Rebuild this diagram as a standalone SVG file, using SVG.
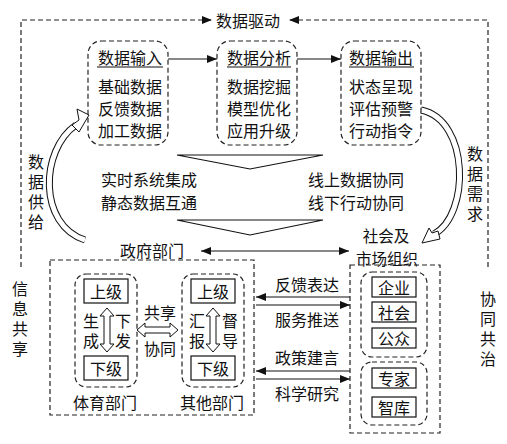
<svg xmlns="http://www.w3.org/2000/svg" width="507" height="444" viewBox="0 0 507 444">
<style>
text{font-family:"Noto Sans CJK SC","Noto Sans",sans-serif;font-size:16px;fill:#111;dominant-baseline:central;text-anchor:middle}
text.v{writing-mode:vertical-rl;text-anchor:start;letter-spacing:4px}
.d{fill:none;stroke:#222;stroke-width:1.2;stroke-dasharray:5 3}
.s{fill:none;stroke:#111;stroke-width:1.2}
.b{fill:#fff;stroke:#111;stroke-width:1.2}
.h{fill:#fff;stroke:#111;stroke-width:1}
</style>
<defs>
<marker id="a" viewBox="0 0 10 8" refX="10" refY="4" markerWidth="10" markerHeight="8" markerUnits="userSpaceOnUse" orient="auto-start-reverse"><path d="M0,0L10,4L0,8z" fill="#111"/></marker>
</defs>
<rect width="507" height="444" fill="#fff"/>
<g id="connectors">
<path class="d" d="M21,267V20H212" marker-end="url(#a)"/>
<path class="d" d="M488,267V20H289" marker-end="url(#a)"/>
<path class="s" d="M168,59H217" marker-end="url(#a)"/>
<path class="s" d="M297,59H341" marker-end="url(#a)"/>
<path class="s" d="M201,251H349" marker-start="url(#a)" marker-end="url(#a)"/>
<path class="s" d="M350,297H256" marker-end="url(#a)"/>
<path class="s" d="M256,305H350" marker-end="url(#a)"/>
<path class="s" d="M350,371H256" marker-end="url(#a)"/>
<path class="s" d="M256,379H350" marker-end="url(#a)"/>
<path class="s" d="M177,155H323L250,169Z"/>
<path class="s" d="M177,220H323L250,235Z"/>
<path d="M85,240C38,225 40,150 76,125" fill="none" stroke="#111" stroke-width="7"/>
<path d="M85,240C38,225 40,150 76,125" fill="none" stroke="#fff" stroke-width="5"/>
<path class="h" d="M89,115L77,109L79,120L72,125L79,132Z"/>
<path d="M421,110C470,120 470,215 434,234" fill="none" stroke="#111" stroke-width="7"/>
<path d="M421,110C470,120 470,215 434,234" fill="none" stroke="#fff" stroke-width="5"/>
<path class="h" d="M422,243L429,228L432,233L438,231L440,239Z"/>
<path class="h" d="M107,308L114,316L110,316L110,344L114,344L107,352L100,344L104,344L104,316L100,316Z"/>
<path class="h" d="M213,308L220,316L216,316L216,344L220,344L213,352L206,344L210,344L210,316L206,316Z"/>
<path class="h" d="M137,330L145,323L145,327L170,327L170,323L178,330L170,337L170,333L145,333L145,337Z"/>
</g>
<g id="top-label"><text x="248" y="20">数据驱动</text></g>
<g id="node-input">
<rect class="d" x="88" y="41" width="80" height="104" rx="13"/>
<text x="130" y="57">数据输入</text>
<path class="s" d="M97,67H163"/>
<text x="130" y="86">基础数据</text>
<text x="130" y="108">反馈数据</text>
<text x="130" y="130">加工数据</text>
</g>
<g id="node-analysis">
<rect class="d" x="217" y="41" width="80" height="104" rx="13"/>
<text x="259" y="57">数据分析</text>
<path class="s" d="M227,67H291"/>
<text x="259" y="86">数据挖掘</text>
<text x="259" y="108">模型优化</text>
<text x="259" y="130">应用升级</text>
</g>
<g id="node-output">
<rect class="d" x="341" y="41" width="80" height="104" rx="13"/>
<text x="381" y="57">数据输出</text>
<path class="s" d="M349,67H414"/>
<text x="381" y="86">状态呈现</text>
<text x="381" y="108">评估预警</text>
<text x="381" y="130">行动指令</text>
</g>
<g id="side-labels">
<text class="v" x="36" y="154">数据供给</text>
<text class="v" x="475" y="146">数据需求</text>
<text class="v" x="20" y="281">信息共享</text>
<text class="v" x="488" y="291">协同共治</text>
</g>
<g id="middle-labels">
<text x="149" y="179">实时系统集成</text>
<text x="149" y="202">静态数据互通</text>
<text x="356" y="179">线上数据协同</text>
<text x="356" y="202">线下行动协同</text>
</g>
<g id="node-gov">
<text x="152" y="250">政府部门</text>
<rect class="d" x="50" y="260" width="204" height="155"/>
<rect class="d" x="75" y="274" width="62" height="113" rx="11"/>
<rect class="b" x="84" y="279" width="44" height="24"/>
<text x="106" y="291">上级</text>
<rect class="b" x="84" y="356" width="44" height="24"/>
<text x="106" y="368">下级</text>
<text class="v" x="91" y="313">生成</text>
<text class="v" x="123" y="313">下发</text>
<text x="105" y="402">体育部门</text>
<rect class="d" x="182" y="274" width="62" height="113" rx="11"/>
<rect class="b" x="191" y="279" width="44" height="24"/>
<text x="213" y="291">上级</text>
<rect class="b" x="191" y="356" width="44" height="24"/>
<text x="213" y="368">下级</text>
<text class="v" x="197" y="313">汇报</text>
<text class="v" x="230" y="313">督导</text>
<text x="212" y="402">其他部门</text>
<text x="160" y="312">共享</text>
<text x="160" y="348">协同</text>
</g>
<g id="arrow-labels">
<text x="307" y="284">反馈表达</text>
<text x="307" y="319">服务推送</text>
<text x="307" y="357">政策建言</text>
<text x="307" y="393">科学研究</text>
</g>
<g id="node-society">
<text style="font-size:15.5px"><tspan x="386" y="235">社会及</tspan><tspan x="387" y="257.5">市场组织</tspan></text>
<rect class="d" x="350" y="265" width="90" height="168"/>
<rect class="d" x="361" y="272" width="66" height="85" rx="11"/>
<rect class="d" x="361" y="362" width="66" height="63" rx="11"/>
<rect class="b" x="372" y="277" width="44" height="20"/><text x="394" y="287">企业</text>
<rect class="b" x="372" y="302" width="44" height="20"/><text x="394" y="312">社会</text>
<rect class="b" x="372" y="328" width="44" height="20"/><text x="394" y="338">公众</text>
<rect class="b" x="372" y="368" width="44" height="20"/><text x="394" y="378">专家</text>
<rect class="b" x="372" y="397" width="44" height="20"/><text x="394" y="407">智库</text>
</g>
</svg>
